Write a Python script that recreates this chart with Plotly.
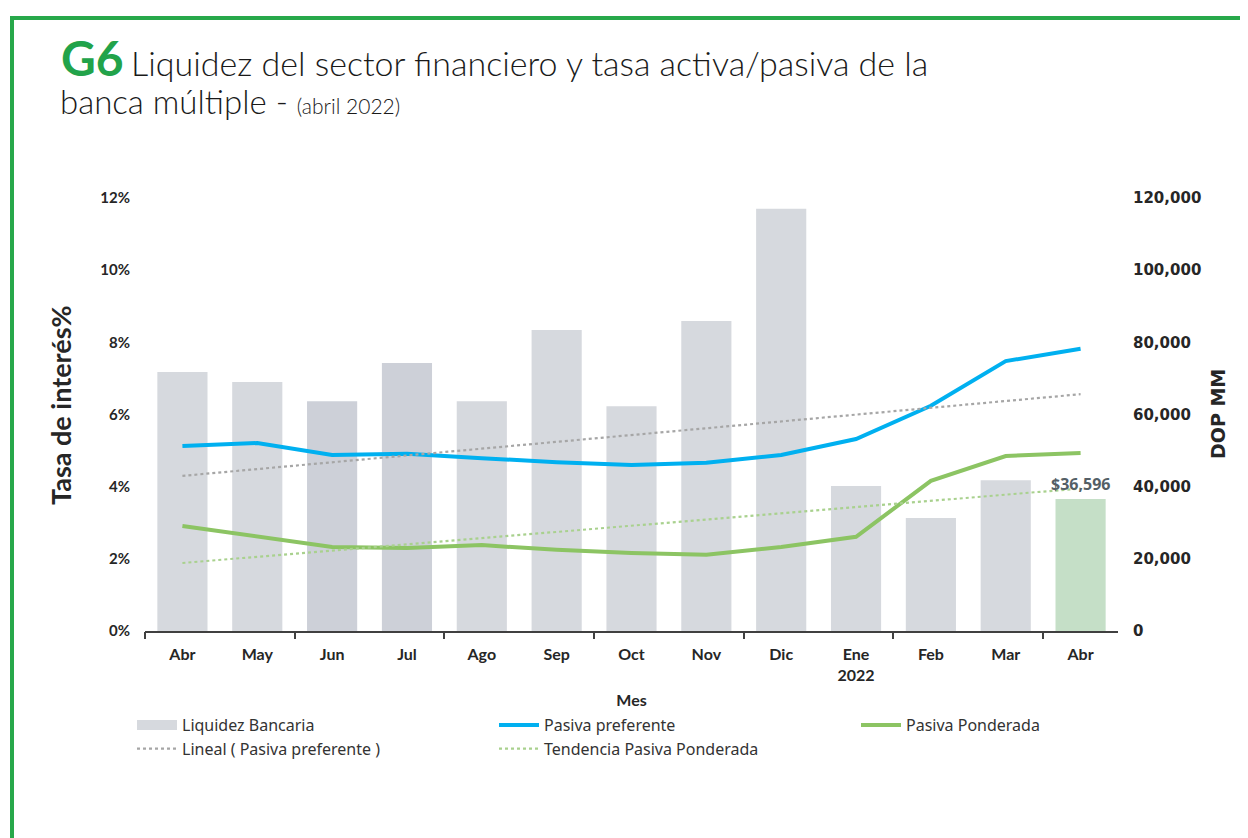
import numpy as np
import plotly.graph_objects as go

# ---------------- data ----------------
months = ["Abr", "May", "Jun", "Jul", "Ago", "Sep", "Oct", "Nov", "Dic", "Ene<br>2022", "Feb", "Mar", "Abr"]
liquidez = [71800, 69000, 63700, 74300, 63700, 83400, 62300, 85900, 117000, 40200, 31300, 41800, 36596]
pasiva_preferente = [5.13, 5.21, 4.88, 4.91, 4.79, 4.68, 4.60, 4.66, 4.88, 5.32, 6.24, 7.48, 7.82]
pasiva_ponderada = [2.91, 2.61, 2.33, 2.30, 2.38, 2.25, 2.16, 2.11, 2.33, 2.61, 4.16, 4.85, 4.93]
rate_ticks = [0, 2, 4, 6, 8, 10, 12]
liq_ticks = [0, 20000, 40000, 60000, 80000, 100000, 120000]
last_label = "$36,596"

xi = np.arange(len(months))
# linear trendlines (least squares, as in the source chart)
tp = np.polyval(np.polyfit(xi, pasiva_preferente, 1), xi)
tw = np.polyval(np.polyfit(xi, pasiva_ponderada, 1), xi)

# ---------------- layout helpers ----------------
OFF = 8  # page body margin
W, H = 1248 - OFF, 838 - OFF
L, R, T, B = 145 - OFF, 130, 198 - OFF, 207
pw, ph = W - L - R, H - T - B
def px(x):  # screen pixel -> paper x
    return (x - OFF - L) / pw
def py(y):  # screen pixel -> paper y
    return (H - B - (y - OFF)) / ph

bar_colors = ["#d6d9de"] * len(months)
bar_colors[2] = "#cdd0d8"
bar_colors[3] = "#cdd0d8"
bar_colors[-1] = "#c5dfc7"

fig = go.Figure()
fig.add_trace(go.Bar(x=xi, y=liquidez, name="Liquidez Bancaria", marker=dict(color=bar_colors, line=dict(width=0)),
                     yaxis="y", xaxis="x", showlegend=False, legendgroup="liq"))
# legend swatch for the bars (wide rectangle like the source)
fig.add_trace(go.Scatter(x=[None], y=[None], name="Liquidez Bancaria", mode="lines",
                         line=dict(color="#d6d9de", width=12), yaxis="y", legendgroup="liq", legendrank=1))
fig.add_trace(go.Scatter(x=xi, y=pasiva_preferente, name="Pasiva preferente", mode="lines",
                         line=dict(color="#00b0f0", width=4), yaxis="y2", legendrank=2))
fig.add_trace(go.Scatter(x=xi, y=pasiva_ponderada, name="Pasiva Ponderada", mode="lines",
                         line=dict(color="#8cc463", width=4), yaxis="y2", legendrank=3))
fig.add_trace(go.Scatter(x=xi, y=tp, name="Lineal ( Pasiva preferente )", mode="lines",
                         line=dict(color="#a6a6a6", width=2.2, dash="dot"), yaxis="y2", legendrank=4))
fig.add_trace(go.Scatter(x=xi, y=tw, name="Tendencia Pasiva Ponderada", mode="lines",
                         line=dict(color="#a9d18e", width=2.2, dash="dot"), yaxis="y2", legendrank=5))
# carrier for tick-mark axis
fig.add_trace(go.Scatter(x=[None], y=[None], xaxis="x2", yaxis="y", showlegend=False, hoverinfo="skip"))

tick_font_l = dict(family="Lato", size=15, color="#262626", weight="bold")
tick_font_r = dict(family="DejaVu Sans", size=15, color="#262626", weight="bold")

fig.update_layout(
    width=W, height=H,
    margin=dict(l=L, r=R, t=T, b=B, autoexpand=False),
    paper_bgcolor="white", plot_bgcolor="white",
    bargap=0.33,
    showlegend=True,
    xaxis=dict(range=[-0.5, len(months) - 0.5], tickmode="array", tickvals=list(xi), ticktext=months,
               ticks="", showline=True, linecolor="#404040", linewidth=1.5, showgrid=False, zeroline=False,
               ticklabelstandoff=8,
               tickfont=dict(family="Lato", size=16, color="#262626", weight="bold"),
               title=dict(text="Mes", font=dict(family="Lato", size=16, color="#262626", weight="bold"), standoff=12)),
    xaxis2=dict(overlaying="x", anchor="y", range=[-0.5, len(months) - 0.5], tickmode="array",
                tickvals=[i - 0.5 for i in range(0, len(months), 2)], ticks="outside", ticklen=7,
                tickwidth=1.5, tickcolor="#404040", showticklabels=False, showline=False, showgrid=False,
                zeroline=False),
    yaxis=dict(side="right", range=[0, 120000], tickmode="array", tickvals=liq_ticks,
               ticktext=[f"{v:,}" for v in liq_ticks], showgrid=False, zeroline=False, showline=False,
               ticks="", ticklabelstandoff=14, tickfont=tick_font_r),
    yaxis2=dict(overlaying="y", side="left", range=[0, 12], tickmode="array", tickvals=rate_ticks,
                ticktext=[f"{v}%" for v in rate_ticks], showgrid=False, zeroline=False, showline=False,
                ticks="", ticklabelstandoff=14, tickfont=tick_font_l),
    legend=dict(orientation="h", x=px(132), xanchor="left", y=py(708), yanchor="top",
                entrywidth=307, entrywidthmode="pixels", traceorder="normal",
                font=dict(family="Noto Sans", size=16, color="#333333"), itemwidth=40,
                tracegroupgap=0, bgcolor="rgba(0,0,0,0)"),
)

ann = []
ann.append(dict(x=px(59), y=py(58), xref="paper", yref="paper", xanchor="left", yanchor="middle",
                text="<b>G6</b>", showarrow=False,
                font=dict(family="Lato", size=48, color="#22a34a", weight=900)))
ann.append(dict(x=px(129), y=py(62), xref="paper", yref="paper", xanchor="left", yanchor="middle",
                text="Liquidez del sector financiero y tasa activa/pasiva de la", showarrow=False,
                font=dict(family="Lato", size=34, color="#1a1a1a", weight=300)))
ann.append(dict(x=px(58), y=py(101), xref="paper", yref="paper", xanchor="left", yanchor="middle",
                text="banca múltiple - <span style='font-size:21px'>(abril 2022)</span>", showarrow=False,
                font=dict(family="Lato", size=33, color="#1a1a1a", weight=300)))
ann.append(dict(x=px(60), y=py(405), xref="paper", yref="paper", xanchor="center", yanchor="middle",
                text="<b>Tasa de interés%</b>", textangle=-90, showarrow=False,
                font=dict(family="Lato", size=27, color="#262626")))
ann.append(dict(x=px(1218), y=py(414), xref="paper", yref="paper", xanchor="center", yanchor="middle",
                text="<b>DOP MM</b>", textangle=-90, showarrow=False,
                font=dict(family="DejaVu Sans", size=19, color="#262626")))
ann.append(dict(x=xi[-1], y=liquidez[-1], xref="x", yref="y", xanchor="center", yanchor="bottom",
                yshift=2, text=f"<b>{last_label}</b>", showarrow=False,
                font=dict(family="Open Sans", size=16, color="#545f66")))
fig.update_layout(annotations=ann)

frame = "#27a84a"
fig.update_layout(shapes=[
    dict(type="line", xref="paper", yref="paper", x0=px(10), x1=px(1260), y0=py(18), y1=py(18),
         line=dict(color=frame, width=4)),
    dict(type="line", xref="paper", yref="paper", x0=px(12), x1=px(12), y0=py(16), y1=py(850),
         line=dict(color=frame, width=4)),
])

fig.write_html("out.html")
